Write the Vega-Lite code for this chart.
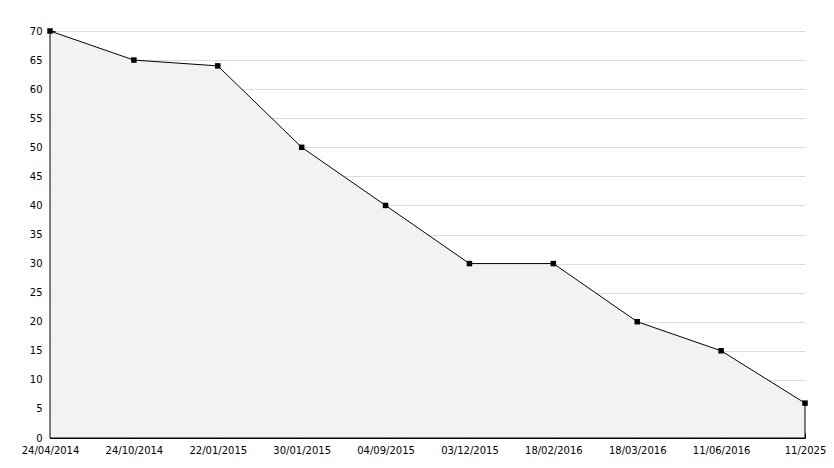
{
  "$schema": "https://vega.github.io/schema/vega-lite/v6.json",
  "width": 755,
  "height": 407,
  "autosize": "none",
  "padding": {"left": 50, "top": 31, "right": 29, "bottom": 30},
  "background": "white",
  "config": {
    "view": {"stroke": null},
    "axis": {"labelFont": "DejaVu Sans", "labelFontSize": 10, "labelColor": "#000", "domainColor": "#000", "tickColor": "#000", "titleFontSize": 0}
  },
  "data": {"values": [
    {"date": "24/04/2014", "value": 70},
    {"date": "24/10/2014", "value": 65},
    {"date": "22/01/2015", "value": 64},
    {"date": "30/01/2015", "value": 50},
    {"date": "04/09/2015", "value": 40},
    {"date": "03/12/2015", "value": 30},
    {"date": "18/02/2016", "value": 30},
    {"date": "18/03/2016", "value": 20},
    {"date": "11/06/2016", "value": 15},
    {"date": "11/2025", "value": 6}
  ]},
  "encoding": {
    "x": {"field": "date", "type": "ordinal", "sort": null, "scale": {"type": "point", "padding": 0},
      "axis": {"title": null, "labelAngle": 0, "tickSize": -5, "labelPadding": 12, "grid": false, "domainWidth": 1}},
    "y": {"field": "value", "type": "quantitative", "scale": {"domain": [0, 70], "nice": false}}
  },
  "layer": [
    {
      "mark": {"type": "area", "fill": "#f2f2f2", "stroke": "#000", "strokeWidth": 1},
      "encoding": {"y": {"field": "value", "type": "quantitative",
        "axis": {"title": null, "values": [0,5,10,15,20,25,30,35,40,45,50,55,60,65,70], "tickSize": -5, "labelPadding": 13, "grid": true, "gridColor": "#dcdcdc", "domainWidth": 1}}}
    },
    {
      "mark": {"type": "point", "shape": "square", "filled": true, "color": "#000", "size": 30, "opacity": 1},
      "encoding": {"y": {"field": "value", "type": "quantitative",
        "axis": {"orient": "left", "title": null, "values": [0,1,2,3,4,5,6,7,8,9,10,11,12,13,14,15,16,17,18,19,20,21,22,23,24,25,26,27,28,29,30,31,32,33,34,35,36,37,38,39,40,41,42,43,44,45,46,47,48,49,50,51,52,53,54,55,56,57,58,59,60,61,62,63,64,65,66,67,68,69,70], "labels": false, "grid": false, "domain": false, "tickSize": -3}}}
    }
  ],
  "resolve": {"axis": {"y": "independent"}}
}
